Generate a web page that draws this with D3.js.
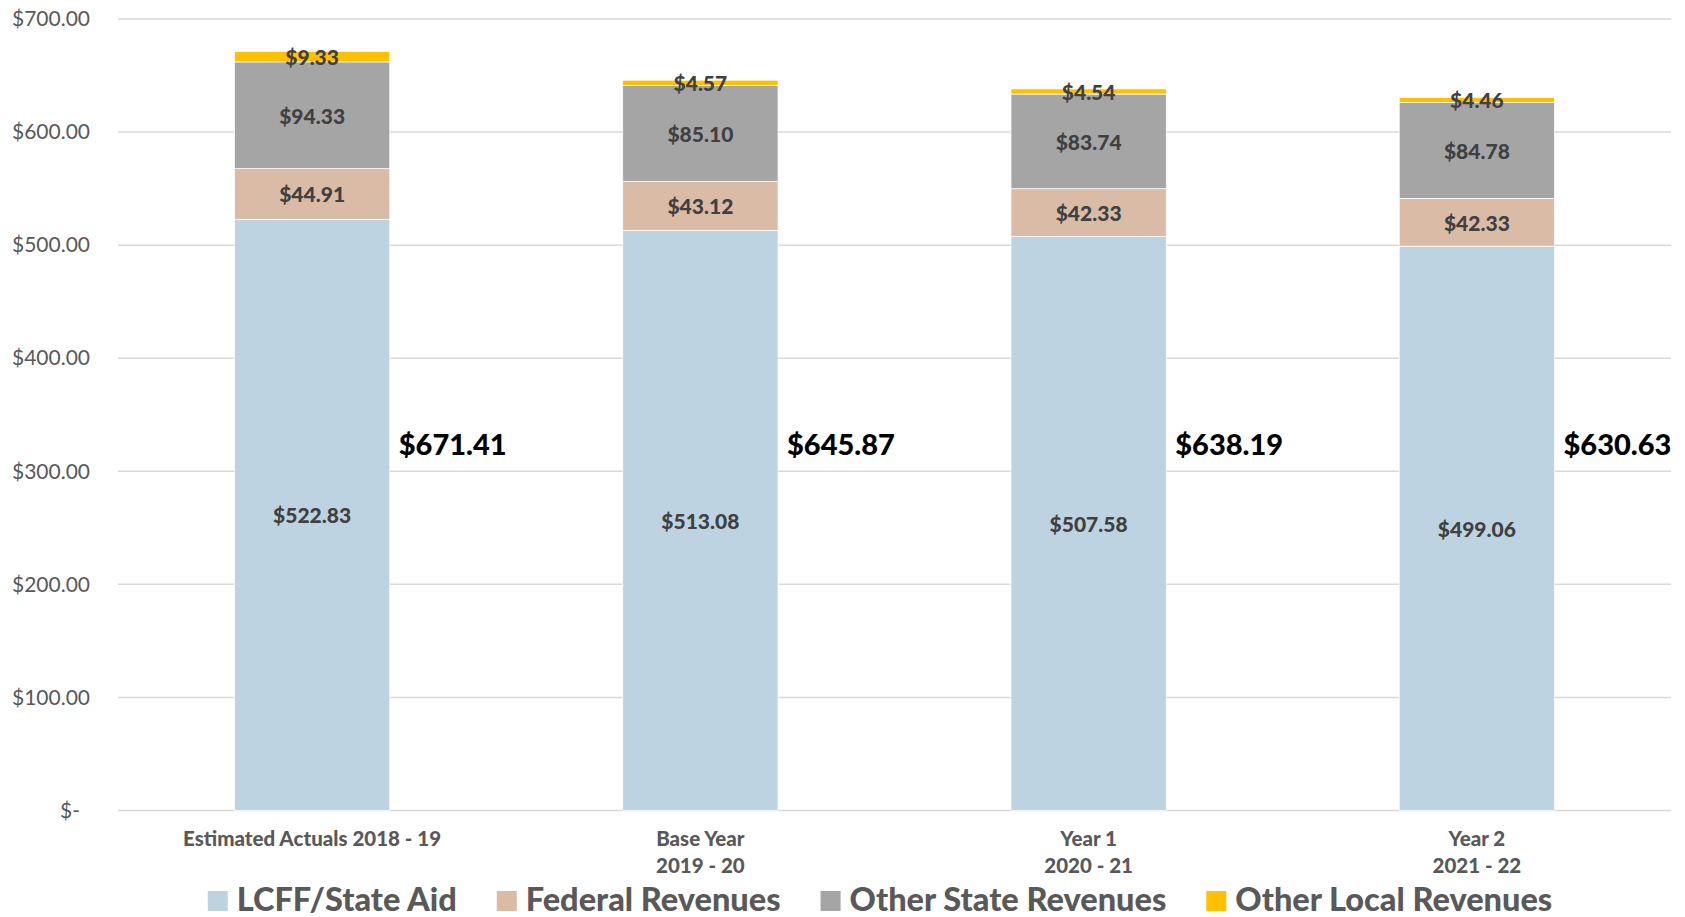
<!DOCTYPE html>
<html>
<head>
<meta charset="utf-8">
<script src="https://cdn.jsdelivr.net/npm/d3@7/dist/d3.min.js"></script>
<style>
  body { margin: 0; background: #fff; }
  svg { display: block; }
</style>
</head>
<body>
<svg id="chart" width="1685" height="917"></svg>
<script>
// ---- data ----
const categories = ["Estimated Actuals 2018 - 19", "Base Year|2019 - 20", "Year 1|2020 - 21", "Year 2|2021 - 22"];
const seriesNames = ["LCFF/State Aid", "Federal Revenues", "Other State Revenues", "Other Local Revenues"];
const lcff = [522.83, 513.08, 507.58, 499.06];
const federal = [44.91, 43.12, 42.33, 42.33];
const otherState = [94.33, 85.10, 83.74, 84.78];
const otherLocal = [9.33, 4.57, 4.54, 4.46];
const totals = [671.41, 645.87, 638.19, 630.63];
const yTicks = [0, 100, 200, 300, 400, 500, 600, 700];
const colors = ["#BDD3E1", "#D9BBA6", "#A5A5A5", "#FFC000"];

const svg = d3.select("#chart");
const plot = { left: 118, right: 1671, top: 19, bottom: 810.5 };
const FONT = "Lato, 'Noto Sans', sans-serif";

const rows = categories.map((c, i) => ({
  cat: c, s0: lcff[i], s1: federal[i], s2: otherState[i], s3: otherLocal[i], total: totals[i]
}));
const keys = ["s0", "s1", "s2", "s3"];
const stacked = d3.stack().keys(keys)(rows);

const x = d3.scaleBand().domain(categories).range([plot.left, plot.right]).paddingInner(0.6).paddingOuter(0.3);
const y = d3.scaleLinear().domain([0, 700]).range([plot.bottom, plot.top]);
const money = v => v === 0 ? "$-" : "$" + d3.format(",.2f")(v);

// gridlines
svg.append("g").selectAll("line").data(yTicks).join("line")
  .attr("x1", plot.left).attr("x2", plot.right)
  .attr("y1", d => y(d)).attr("y2", d => y(d))
  .attr("stroke", "#D9D9D9").attr("stroke-width", 1.5);

// y axis labels
const yAxis = d3.axisLeft(y).tickValues(yTicks).tickFormat(money).tickSize(0).tickPadding(0);
const yg = svg.append("g").attr("transform", "translate(90,0)").call(yAxis);
yg.select(".domain").remove();
yg.selectAll("text")
  .attr("font-family", FONT)
  .attr("font-size", 21).attr("fill", "#595959")
  .attr("dx", d => d === 0 ? -10 : 0);

// bars
const bars = svg.append("g");
stacked.forEach((layer, li) => {
  bars.append("g").selectAll("rect").data(layer).join("rect")
    .attr("x", d => x(d.data.cat))
    .attr("width", x.bandwidth())
    .attr("y", d => y(d[1]))
    .attr("height", d => y(d[0]) - y(d[1]))
    .attr("fill", colors[li])
    .attr("stroke", "#fff").attr("stroke-width", 0.75);
});

// segment labels
stacked.forEach((layer, li) => {
  svg.append("g").selectAll("text").data(layer).join("text")
    .attr("x", d => x(d.data.cat) + x.bandwidth() / 2)
    .attr("y", d => y((d[0] + d[1]) / 2))
    .attr("text-anchor", "middle").attr("dominant-baseline", "central")
    .attr("font-family", FONT)
    .attr("font-weight", 900).attr("font-size", 21).attr("fill", "#404040")
    .text(d => money(d[1] - d[0]));
});

// total labels
svg.append("g").selectAll("text").data(rows).join("text")
  .attr("x", d => x(d.cat) + x.bandwidth() + 9)
  .attr("y", y(325))
  .attr("dominant-baseline", "central")
  .attr("font-family", FONT)
  .attr("font-weight", 900).attr("font-size", 29).attr("fill", "#000")
  .text(d => money(d.total));

// category labels
const catG = svg.append("g");
categories.forEach(c => {
  const lines = c.split("|");
  const t = catG.append("text")
    .attr("text-anchor", "middle")
    .attr("font-family", FONT)
    .attr("font-weight", 900).attr("font-size", 20.5).attr("fill", "#595959");
  lines.forEach((ln, k) => {
    t.append("tspan").attr("x", x(c) + x.bandwidth() / 2)
      .attr("y", 838 + k * 27).attr("dominant-baseline", "central").text(ln);
  });
});

// legend
const lg = svg.append("g");
const items = seriesNames.map((n, i) => {
  const g = lg.append("g");
  g.append("rect").attr("width", 20).attr("height", 20).attr("y", 891).attr("fill", colors[i]);
  const t = g.append("text").attr("x", 29).attr("y", 911)
    .attr("font-family", FONT)
    .attr("font-weight", 900).attr("font-size", 32.5).attr("fill", "#595959").text(n);
  return { g, w: 29 + t.node().getComputedTextLength() };
});
const gap = 40;
const totalW = d3.sum(items, d => d.w) + gap * (items.length - 1);
let cx = 880 - totalW / 2;
items.forEach(it => { it.g.attr("transform", `translate(${cx},0)`); cx += it.w + gap; });
</script>
</body>
</html>
